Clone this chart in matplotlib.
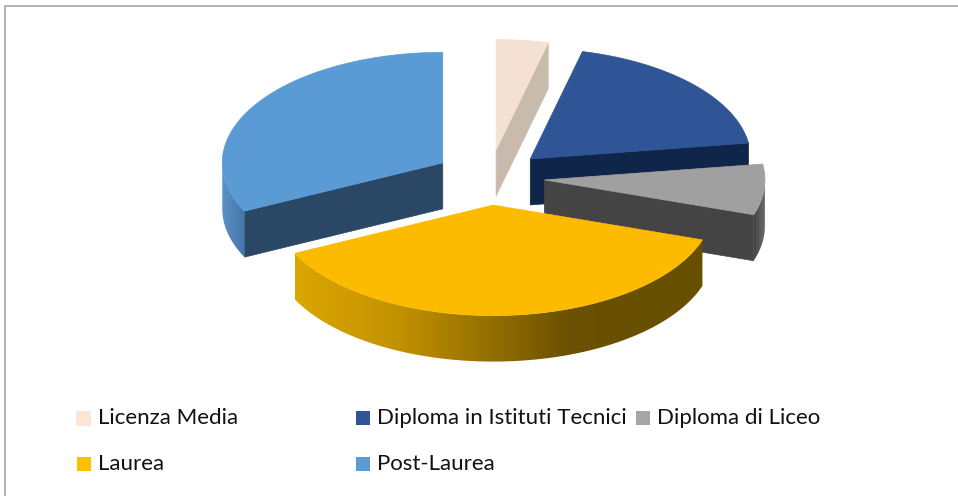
#exploded 3D style pie, drawn by hand since matplotlib has no 3D pie
import numpy as np
import matplotlib
matplotlib.use("Agg")
import matplotlib.pyplot as plt
from matplotlib.colors import LinearSegmentedColormap
from matplotlib.patches import Polygon, Rectangle

labels = ["Licenza Media", "Diploma in Istituti Tecnici", "Diploma di Liceo", "Laurea", "Post-Laurea"]
values = [3.8, 18.9, 7.4, 37.7, 32.2]          #percent

top_colors = ["#F5E1D4", "#2F5597", "#A0A0A0", "#FDBB00", "#5B9BD5"]
legend_colors = ["#FBE5D6", "#2F5597", "#A5A5A5", "#FFC000", "#5B9BD5"]
cut_colors = ["#C9BAAE", "#10254A", "#444444", "#FDBB00", "#2A4766"]
wall_colors = [[(0, "#C9BAAE"), (1, "#C9BAAE")],
               [(0, "#10254A"), (1, "#10254A")],
               [(0, "#444444"), (1, "#707070")],
               [(0, "#DCA600"), (0.25, "#C39200"), (0.5, "#8F6C00"), (0.67, "#6B5100"), (1, "#665000")],
               [(0, "#5C92C8"), (1, "#4374A8")]]

cx, cy = 489.5, 177.5        #pie centre in pixels
rx, ry = 220.5, 110.5        #ellipse radii
depth = 46.0                 #height of the slices
explode = 0.25


def point(angle, r=1.0, ox=0.0, oy=0.0):
    #angle in degrees clockwise from the top of the pie
    a = np.radians(angle)
    return ox + r*rx*np.sin(a), oy - r*ry*np.cos(a)


fig = plt.figure(figsize=(9.58, 4.96), dpi=100)
ax = fig.add_axes([0, 0, 1, 1])
ax.axis("off")

#frame, only the top and left sides show in the picture
ax.plot([5.5, 5.5, 958], [496, 5.5, 5.5], color="#A6A6A6", lw=1.2)

edges = np.concatenate([[0], np.cumsum(values)])*360.0/sum(values)

#back slices go first so the front ones cover them
for i in [0, 1, 4, 2, 3]:
    a0, a1 = edges[i], edges[i+1]
    ox, oy = point((a0+a1)/2, explode, cx, cy)
    arc = np.linspace(a0, a1, 200)
    xs, ys = point(arc, 1.0, ox, oy)

    #cut faces, only the ones turned to the viewer
    for a in [a for a in (a0, a1) if (a == a1 and a1 < 180) or (a == a0 and a0 > 180)]:
        ex, ey = point(a, 1.0, ox, oy)
        ax.add_patch(Polygon([(ox, oy), (ex, ey), (ex, ey+depth), (ox, oy+depth)],
                             fc=cut_colors[i], ec=cut_colors[i], lw=0.5, zorder=i+2))

    #outer wall, front half of the ellipse only
    front = (arc >= 90) & (arc <= 270)
    if front.sum() > 1:
        wx, wy = xs[front], ys[front]
        wall = Polygon(np.r_[np.c_[wx, wy], np.c_[wx[::-1], wy[::-1]+depth]],
                       fc="none", ec="none", zorder=i+2)
        ax.add_patch(wall)
        cmap = LinearSegmentedColormap.from_list("wall", wall_colors[i])
        grad = np.linspace(0, 1, 256).reshape(1, -1)
        extent = (wx.min(), wx.max(), wy.max()+depth, wy.min())
        im = ax.imshow(grad, cmap=cmap, extent=extent, aspect="auto", zorder=i+2)
        im.set_clip_path(wall)

    #top face
    ax.add_patch(Polygon(np.r_[[[ox, oy]], np.c_[xs, ys]], fc=top_colors[i],
                         ec=top_colors[i], lw=0.5, zorder=i+2.5))

#legend, three equal columns
for i, name in enumerate(labels):
    col, row = i % 3, i // 3
    x = 77 + col*279.5
    y = 418 + row*46
    size = 15 if i == 0 else 14
    ax.add_patch(Rectangle((x-size/2+7, y-size/2), size, size, fc=legend_colors[i], ec="none", zorder=10))
    ax.text(x+21, y, name, family=["Lato", "DejaVu Sans"], fontsize=16, color="#111111",
            va="center", ha="left", zorder=10)

ax.set_xlim(0, 958)
ax.set_ylim(496, 0)
fig.savefig("out.png", dpi=100)
